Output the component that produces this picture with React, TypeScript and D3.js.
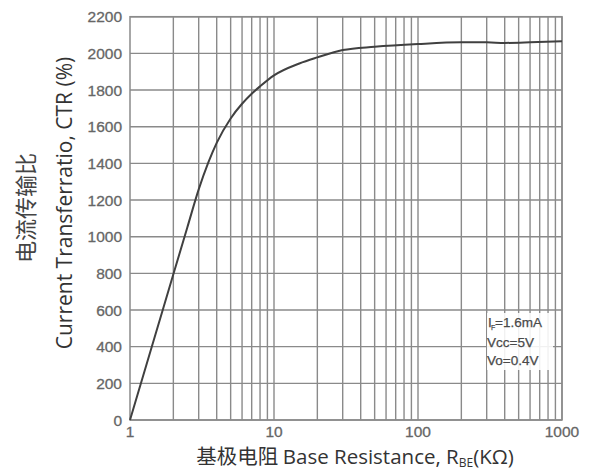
import * as d3 from "d3"
import { useEffect, useRef } from "react"

// curve: base resistance (kOhm) vs CTR (%)
const rbe = [1, 1.5, 2, 2.5, 3, 3.5, 4, 5, 6, 7, 8, 10, 15, 20, 30, 50, 100, 200, 300, 400, 600, 1000]
const ctr = [0, 465, 795, 1050, 1258, 1405, 1512, 1645, 1725, 1780, 1820, 1880, 1945, 1978, 2018, 2036, 2051, 2060, 2060, 2057, 2060, 2066]

const yTicks = [0, 200, 400, 600, 800, 1000, 1200, 1400, 1600, 1800, 2000, 2200]
const xTicks = [1, 10, 100, 1000]
const legendLines = ["=1.6mA", "Vcc=5V", "Vo=0.4V"]

export default function App() {
  const ref = useRef<SVGSVGElement>(null)

  useEffect(() => {
    const svg = d3.select(ref.current)
    svg.selectAll("*").remove()

    const left = 130, right = 562, top = 16.7, bottom = 420

    const x = d3.scaleLog().domain([1, 1000]).range([left, right])
    const y = d3.scaleLinear().domain([0, 2200]).range([bottom, top])

    const gridColor = "#8a8a8a"

    // vertical grid, every 1..9 of each decade
    const minor: number[] = []
    for (let d = 1; d < 1000; d *= 10) {
      for (let k = 2; k <= 10; k++) minor.push(d * k)
    }
    svg.append("g").selectAll("line").data(minor)
      .enter().append("line")
      .attr("x1", d => x(d)).attr("x2", d => x(d))
      .attr("y1", top).attr("y2", bottom)
      .attr("stroke", gridColor).attr("stroke-width", 1.4)

    // horizontal grid
    svg.append("g").selectAll("line").data(yTicks)
      .enter().append("line")
      .attr("x1", left).attr("x2", right)
      .attr("y1", d => y(d)).attr("y2", d => y(d))
      .attr("stroke", gridColor).attr("stroke-width", 1.4)

    svg.append("rect")
      .attr("x", left).attr("y", top)
      .attr("width", right - left).attr("height", bottom - top)
      .attr("fill", "none").attr("stroke", gridColor).attr("stroke-width", 1.5)

    // legend box
    svg.append("rect")
      .attr("x", 487).attr("y", 313).attr("width", 66).attr("height", 57)
      .attr("fill", "#fff").attr("opacity", 0.88)
    const leg = svg.append("g")
      .attr("font-family", "'Liberation Sans', Arial, sans-serif")
      .attr("font-size", 13.5).attr("fill", "#4a4a4a")
      .attr("stroke", "#4a4a4a").attr("stroke-width", 0.25)
    leg.selectAll("text").data(legendLines)
      .enter().append("text")
      .attr("x", (d, i) => i === 0 ? 495 : 487)
      .attr("y", (d, i) => [327, 347, 365][i])
      .text(d => d)
    leg.append("text").attr("x", 488).attr("y", 327).text("I")
    leg.append("text").attr("x", 491).attr("y", 330).attr("font-size", 7).text("F")

    // curve
    const line = d3.line<number>()
      .x((d, i) => x(rbe[i]))
      .y(d => y(d))
      .curve(d3.curveMonotoneX)
    svg.append("path")
      .attr("d", line(ctr))
      .attr("fill", "none")
      .attr("stroke", "#404040")
      .attr("stroke-width", 2)

    // tick labels
    const tickFont = "'Liberation Sans', Arial, sans-serif"
    svg.append("g").selectAll("text").data(yTicks)
      .enter().append("text")
      .attr("x", 122).attr("y", d => y(d) + 5.5)
      .attr("text-anchor", "end")
      .attr("font-family", tickFont).attr("font-size", 15.5)
      .attr("fill", "#666").attr("stroke", "#666").attr("stroke-width", 0.3)
      .text(d => d)
    svg.append("g").selectAll("text").data(xTicks)
      .enter().append("text")
      .attr("x", d => x(d)).attr("y", 436.5)
      .attr("text-anchor", "middle")
      .attr("font-family", tickFont).attr("font-size", 15.5)
      .attr("fill", "#666").attr("stroke", "#666").attr("stroke-width", 0.3)
      .text(d => d)

    // axis titles
    const titleFont = "'Open Sans', 'Noto Sans', 'Noto Sans CJK SC', sans-serif"
    const xt = svg.append("text")
      .attr("x", 355).attr("y", 464)
      .attr("text-anchor", "middle")
      .attr("font-family", titleFont).attr("font-size", 20.5).attr("fill", "#333")
    xt.append("tspan").attr("font-family", "'Noto Sans CJK SC', sans-serif").text("基极电阻 ")
    xt.append("tspan").text("Base Resistance, R")
    xt.append("tspan").attr("font-size", 12).attr("dy", 3).text("BE")
    xt.append("tspan").attr("dy", -3).text("(KΩ)")

    svg.append("text")
      .attr("transform", "translate(72,203) rotate(-90)")
      .attr("text-anchor", "middle")
      .attr("font-family", titleFont).attr("font-size", 21).attr("fill", "#333")
      .text("Current Transferratio, CTR (%)")
    svg.append("text")
      .attr("transform", "translate(34,208) rotate(-90)")
      .attr("text-anchor", "middle")
      .attr("font-family", "'Noto Sans CJK SC', sans-serif").attr("font-size", 22).attr("fill", "#444")
      .text("电流传输比")
  }, [])

  return (
    <svg ref={ref} width={590} height={470}
      style={{ position: "absolute", left: 0, top: 0, background: "#fff" }} />
  )
}
